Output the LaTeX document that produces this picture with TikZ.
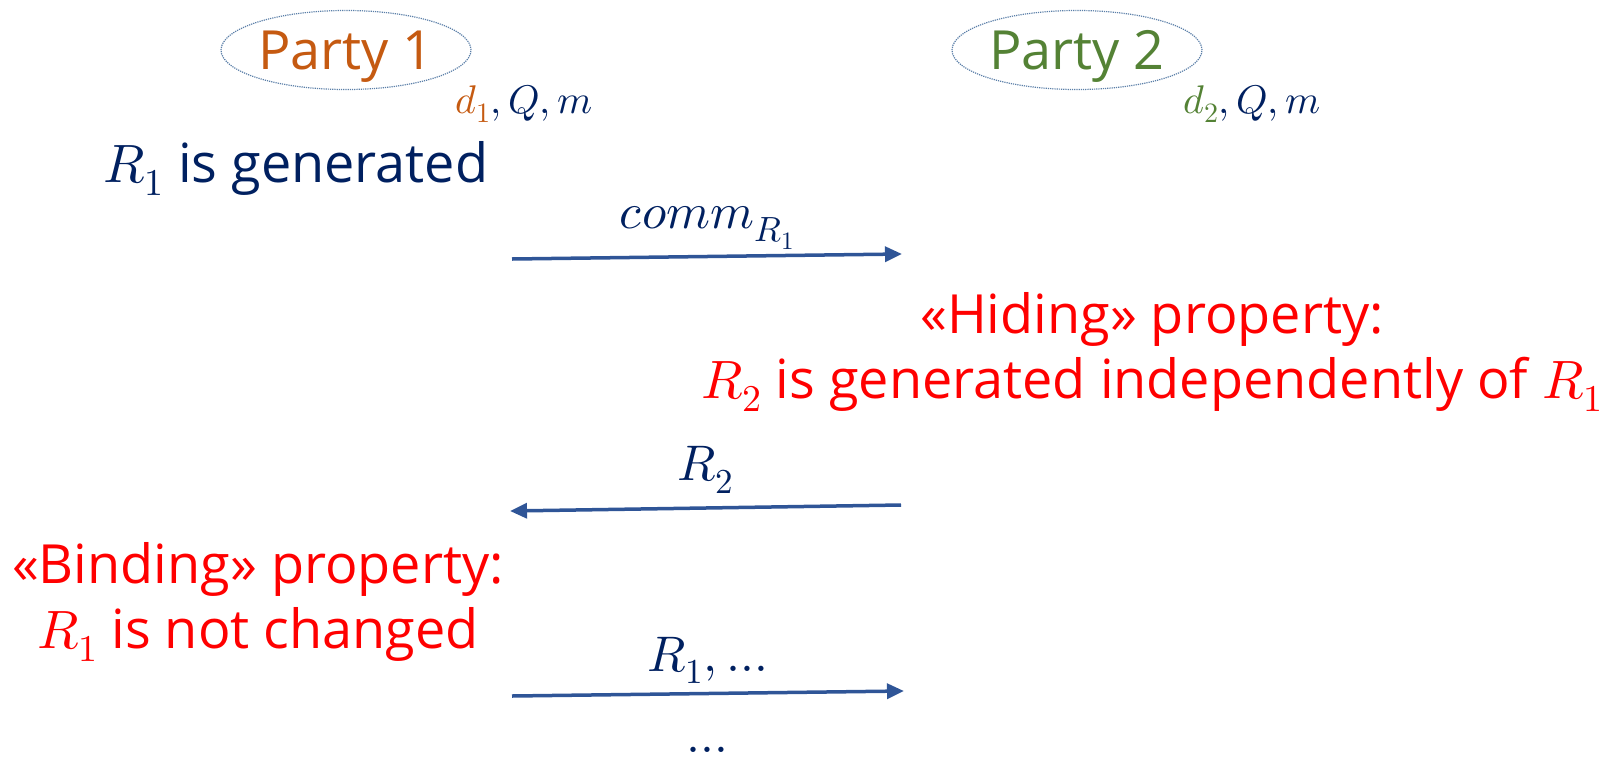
\documentclass[tikz,border=0pt]{standalone}
\usepackage{fontspec}
\usepackage{unicode-math}
\setmainfont{Open Sans}
\setmathfont{Latin Modern Math}
\usepackage{tikz}
\usetikzlibrary{positioning,arrows.meta,shapes.geometric}
\definecolor{navy}{HTML}{002060}
\definecolor{onecol}{HTML}{C55A11}
\definecolor{twocol}{HTML}{548235}
\definecolor{msgblue}{HTML}{2F5597}
\definecolor{ringblue}{HTML}{5B7FA8}

\begin{document}
\begin{tikzpicture}[
  x=1pt,y=-1pt,
  party/.style={ellipse,draw=ringblue,densely dotted,line width=1.2pt,minimum width=250pt,minimum height=79pt,inner sep=0pt,text depth=0pt,font=\fontsize{54}{64}\selectfont},
  attr/.style={anchor=base west,inner sep=0pt,text=navy,font=\fontsize{40}{46}\selectfont},
  plain/.style={inner sep=0pt,text=navy,font=\fontsize{54}{64}\selectfont},
  note/.style={inner sep=0pt,text=red,align=center,font=\fontsize{54}{65}\selectfont},
  lbl/.style={inner sep=0pt,text=navy,font=\fontsize{50}{58}\selectfont},
  msg/.style={draw=msgblue,line width=3.5pt},
  >={Triangle[length=17pt,width=15pt]}
]
\useasboundingbox (0,0) rectangle (1614,761);
\clip (0,0) rectangle (1614,761);
% --- the two parties ---
\node[party,text=onecol] (p1) at (346,50) {Party 1};
\node[party,text=twocol] (p2) at (1077,50) {Party 2};
\node[attr] (k1) at (455,113) {$\textcolor{onecol}{d_1},Q,m$};
\node[attr] (k2) at (1183,113) {$\textcolor{twocol}{d_2},Q,m$};
\node[plain,anchor=base] (gen) at (296,182) {$R_1$ is generated};
% --- messages ---
\coordinate (a1s) at (512,259);
\coordinate (a1e) at (902,254);
\coordinate (a2s) at (901,505);
\coordinate (a2e) at (510,511);
\coordinate (a3s) at (512,696);
\coordinate (a3e) at (904,691);
\draw[msg,->] (a1s) -- node[lbl,above=5pt] (l1) {$comm_{R_1}$} (a1e);
\draw[msg,->] (a2s) -- node[lbl,above=13pt] (l2) {$R_2$} (a2e);
\draw[msg,->] (a3s) -- node[lbl,above=8pt] (l3) {$R_1,\ldots$} (a3e);
\node[lbl,anchor=base] (dots) at (707,752) {$\ldots$};
% --- properties ---
\node[note] (hide) at (1152,352) {«Hiding» property:\\$R_2$ is generated independently of $R_1$};
\node[note] (bind) at (258,602) {«Binding» property:\\$R_1$ is not changed};
\end{tikzpicture}
\end{document}
